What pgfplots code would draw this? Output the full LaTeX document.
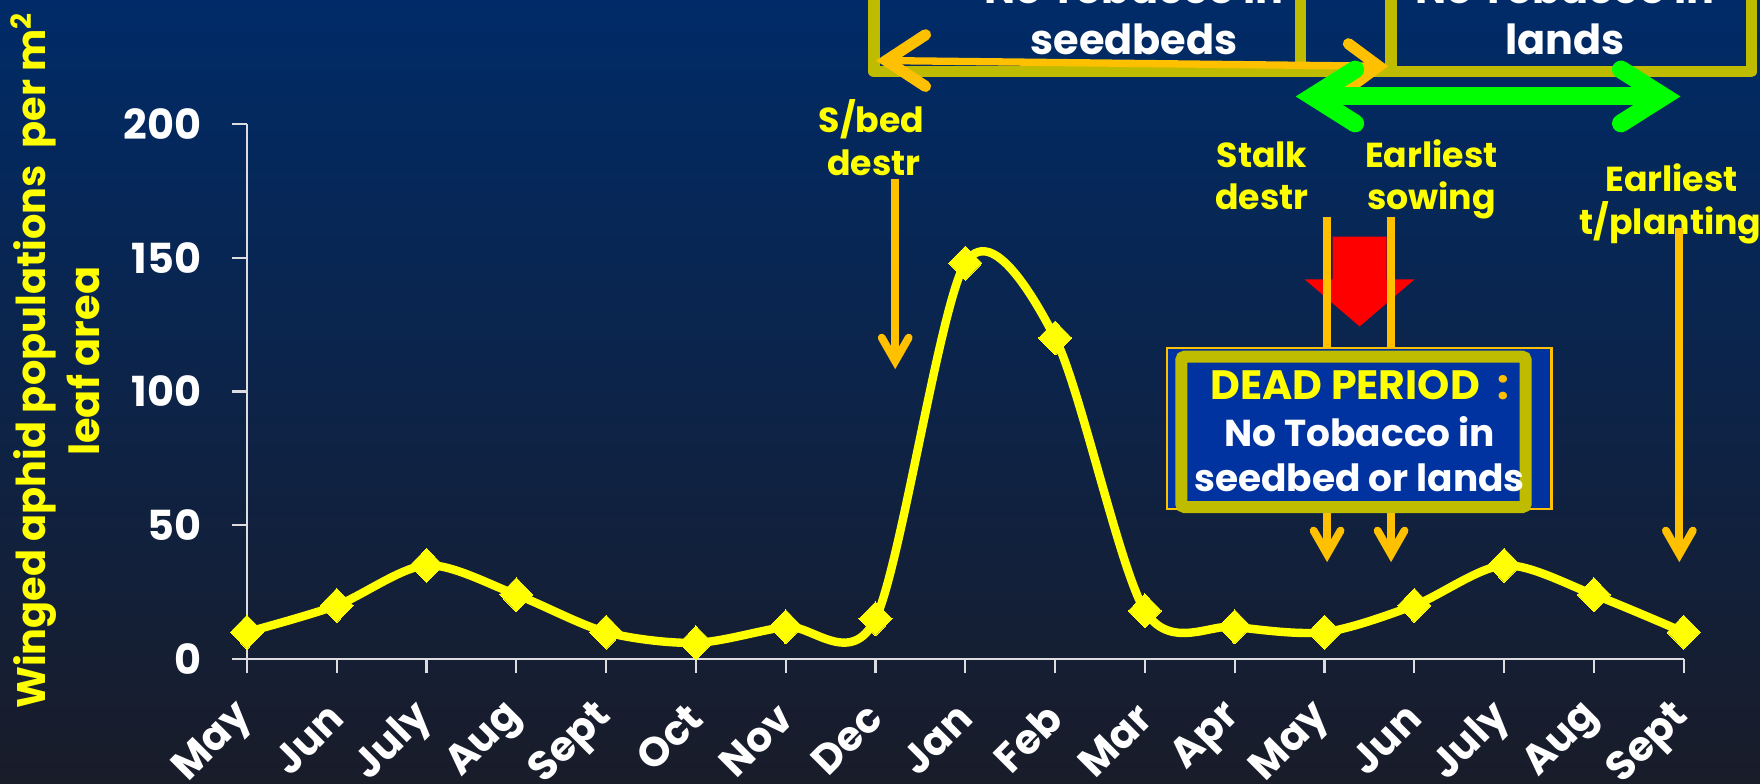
\documentclass[border=0pt]{standalone}
\usepackage{fontspec}
\setmainfont{Poppins}
\usepackage{pgfplots}
\pgfplotsset{compat=1.18}

\definecolor{bgtop}{RGB}{0,43,104}
\definecolor{bgmid}{RGB}{8,34,84}
\definecolor{bgbot}{RGB}{25,28,41}
\definecolor{lineyellow}{RGB}{255,255,0}
\definecolor{olivebox}{RGB}{191,188,0}
\definecolor{arroworange}{RGB}{255,192,0}
\definecolor{arrowgreen}{RGB}{0,255,0}
\definecolor{boxblue}{RGB}{0,51,160}
\definecolor{axisgray}{RGB}{220,220,225}

\newcommand\lblfont{\bfseries\fontsize{8.8}{11}\selectfont}
\newcommand\tickfont{\bfseries\fontsize{10.5}{12}\selectfont}

\begin{document}
\begin{tikzpicture}
\useasboundingbox (0,0) rectangle (15.68,6.98);
\clip (0,0) rectangle (15.68,6.98);
\shade[top color=bgtop, middle color=bgmid, bottom color=bgbot] (0,0) rectangle (15.68,6.98);

\begin{axis}[
  at={(2.2cm,1.11cm)}, anchor=south west,
  scale only axis, width=12.8cm, height=4.765cm,
  xmin=0, xmax=16, ymin=0, ymax=200,
  axis x line=bottom, axis y line=left,
  axis line style={draw=axisgray, line width=0.02cm, -},
  xtick={0,...,16},
  xticklabels={May,Jun,July,Aug,Sept,Oct,Nov,Dec,Jan,Feb,Mar,Apr,May,Jun,July,Aug,Sept},
  ytick={0,50,100,150,200},
  tick align=outside, major tick length=0.13cm,
  tick style={draw=axisgray, line width=0.02cm},
  ticklabel style={text=white, font=\tickfont},
  /pgf/number format/assume math mode=true,
  yticklabel style={anchor=east, inner sep=0pt, xshift=-0.27cm},
  xticklabel style={yshift=-0.33cm, rotate=45, anchor=east, inner sep=0pt,
    font=\bfseries\fontsize{10.4}{12}\selectfont},
  clip=false,
]
\draw[axisgray, line width=0.02cm] (axis cs:-0.17,0) -- (axis cs:0,0);
\addplot[color=lineyellow, line width=0.075cm, smooth, mark=diamond*, mark size=4.3pt,
  mark options={solid, xscale=1.3, fill=lineyellow, draw=lineyellow, line width=0pt}]
  coordinates {
  (0,10) (1,20) (2,35) (3,24) (4,10) (5,6) (6,12) (7,15) (8,148)
  (9,120) (10,18) (11,12) (12,10) (13,20) (14,35) (15,24) (16,10)
  };
\end{axis}

\begin{scope}[shift={(0cm,6.98cm)}, x=0.01cm, y=-0.01cm]
  % y axis title
  \node[rotate=90, text=lineyellow, font=\bfseries\fontsize{10.1}{13}\selectfont]
    at (30,321) {Winged aphid populations\ \ per m\textsuperscript{2}};
  \node[rotate=90, text=lineyellow, font=\bfseries\fontsize{10.5}{13}\selectfont]
    at (74,322) {leaf area};

  % top boxes
  \draw[olivebox, line width=0.1cm, line join=round]
    (779,-30) -- (779,64) -- (1159,64) -- (1159,-30);
  \draw[olivebox, line width=0.1cm, line join=round]
    (1240,-30) -- (1240,64) -- (1561,64) -- (1561,-30);
  \draw[olivebox, line width=0.1cm] (779,64) -- (1561,64);
  \node[text=white, anchor=base, font=\bfseries\fontsize{10.5}{13}\selectfont] at (1011,3) {No Tobacco in};
  \node[text=white, anchor=base, font=\bfseries\fontsize{10.5}{13}\selectfont] at (1011,49) {seedbeds};
  \node[text=white, anchor=base, font=\bfseries\fontsize{10.5}{13}\selectfont] at (1395,3) {No Tobacco in};
  \node[text=white, anchor=base, font=\bfseries\fontsize{10.5}{13}\selectfont] at (1395,49) {lands};

  % orange double arrow under the boxes
  \draw[arroworange, line width=0.065cm] (790,54) -- (1229,59);
  \draw[arroworange, line width=0.1cm, line cap=round, line join=miter]
    (825,31) -- (790,54) -- (825,77);
  \draw[arroworange, line width=0.1cm, line cap=round, line join=miter]
    (1202,39) -- (1229,59) -- (1202,79);

  % green double arrow
  \draw[arrowgreen, line width=0.16cm] (1170,86) -- (1483,86);
  \draw[arrowgreen, line width=0.16cm, line cap=round, line join=miter]
    (1208,62) -- (1170,86) -- (1208,110);
  \draw[arrowgreen, line width=0.16cm, line cap=round, line join=miter]
    (1445,62) -- (1483,86) -- (1445,110);

  % labels
  \node[text=lineyellow, anchor=base, font=\lblfont] at (777,118) {S/bed};
  \node[text=lineyellow, anchor=base, font=\lblfont] at (779,156) {destr};
  \node[text=lineyellow, anchor=base, font=\lblfont] at (1125,149) {Stalk};
  \node[text=lineyellow, anchor=base, font=\lblfont] at (1125,187) {destr};
  \node[text=lineyellow, anchor=base, font=\lblfont] at (1276,149) {Earliest};
  \node[text=lineyellow, anchor=base, font=\lblfont] at (1276,187) {sowing};
  \node[text=lineyellow, anchor=base, font=\lblfont] at (1490,171) {Earliest};
  \node[text=lineyellow, anchor=base, font=\lblfont] at (1489,209) {t/planting};

  % red block arrow
  \fill[red] (1188,211) -- (1236,211) -- (1236,249) -- (1261,249) -- (1212,291)
    -- (1163,249) -- (1188,249) -- cycle;

  % orange down arrows
  \foreach \xx/\yy/\tp in {798/160/322, 1183/193/494, 1240/193/494, 1497/203/494} {
    \draw[arroworange, line width=0.07cm] (\xx,\yy) -- (\xx,\tp-2);
    \draw[arroworange, line width=0.07cm, line cap=round, line join=miter]
      (\xx-12,\tp-21) -- (\xx,\tp) -- (\xx+12,\tp-21);
  }

  % dead period box
  \filldraw[fill=boxblue, draw=arroworange, line width=0.02cm] (1040,310) rectangle (1383,454);
  \filldraw[fill=boxblue, draw=olivebox, line width=0.107cm, rounded corners=0.03cm]
    (1053,318) rectangle (1360,452);
  \node[anchor=base, font=\bfseries\fontsize{10.4}{12}\selectfont] at (1212,356)
    {\textcolor{lineyellow}{DEAD PERIOD}\ \ \textcolor{arroworange}{:}};
  \node[anchor=base, text=white, font=\bfseries\fontsize{9.5}{12}\selectfont] at (1212,398)
    {No Tobacco in};
  \node[anchor=base, text=white, font=\bfseries\fontsize{9.5}{12}\selectfont] at (1212,438)
    {seedbed or lands};
\end{scope}
\end{tikzpicture}
\end{document}
